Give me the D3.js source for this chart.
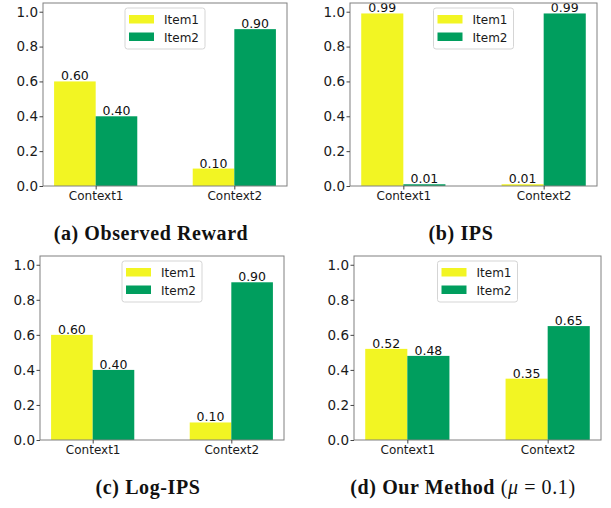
<!DOCTYPE html>
<html>
<head>
<meta charset="utf-8">
<script src="https://cdn.jsdelivr.net/npm/d3@7"></script>
<style>
  body { margin: 0; background: #fff; }
  svg { display: block; }
  .tick text { fill: #1a1a1a; }
</style>
</head>
<body>
<div id="chart"></div>
<script>
// data
var categories = ["Context1", "Context2"],
    items = ["Item1", "Item2"];

var rewardItem1 = [0.60, 0.10], rewardItem2 = [0.40, 0.90];
var ipsItem1 = [0.99, 0.01], ipsItem2 = [0.01, 0.99];
var logIpsItem1 = [0.60, 0.10], logIpsItem2 = [0.40, 0.90];
var oursItem1 = [0.52, 0.35], oursItem2 = [0.48, 0.65];

var yTicks = [0, 0.2, 0.4, 0.6, 0.8, 1.0];

var width = 611, height = 508;
var colors = ["#f2f523", "#009e5e"];
var barWidth = 0.3;

var f = d3.format(".2f");

// panel layout (pixel boxes of each axes + title centre)
var panels = [
  { title: [["(a) Observed Reward", "b"]], v1: rewardItem1, v2: rewardItem2,
    left: 43, right: 287, top: 3, bottom: 186, tx: 151 },
  { title: [["(b) IPS", "b"]], v1: ipsItem1, v2: ipsItem2,
    left: 350, right: 597, top: 3, bottom: 186, tx: 461 },
  { title: [["(c) Log-IPS", "b"]], v1: logIpsItem1, v2: logIpsItem2,
    left: 40, right: 284, top: 256, bottom: 440, tx: 148 },
  { title: [["(d) Our Method ", "b"], ["(", "n"], ["\u03bc", "i"], [" = 0.1)", "n"]],
    v1: oursItem1, v2: oursItem2,
    left: 354, right: 601, top: 256, bottom: 440, tx: 463 }
];

var svg = d3.select("#chart").append("svg")
  .attr("width", width)
  .attr("height", height)
  .style("font-family", "'DejaVu Sans', sans-serif");

panels.forEach(function(p) {
  var x = d3.scaleLinear().domain([-0.38, 1.38]).range([p.left, p.right]);
  var y = d3.scaleLinear().domain([0, 1.05]).range([p.bottom, p.top]);

  var g = svg.append("g");

  // bars
  [p.v1, p.v2].forEach(function(vals, j) {
    var bars = vals.map(function(v, i) {
      return { x0: i - barWidth + j * barWidth, v: v };
    });
    g.selectAll(null).data(bars).enter().append("rect")
      .attr("x", function(d) { return x(d.x0); })
      .attr("y", function(d) { return y(d.v); })
      .attr("width", function(d) { return x(d.x0 + barWidth) - x(d.x0); })
      .attr("height", function(d) { return y(0) - y(d.v); })
      .style("fill", colors[j]);

    g.selectAll(null).data(bars).enter().append("text")
      .attr("x", function(d) { return x(d.x0 + barWidth / 2); })
      .attr("y", function(d) { return y(d.v) - 1; })
      .attr("text-anchor", "middle")
      .style("font-size", "12.5px")
      .style("fill", "#111")
      .text(function(d) { return f(d.v); });
  });

  // frame
  g.append("rect")
    .attr("x", p.left)
    .attr("y", p.top)
    .attr("width", p.right - p.left)
    .attr("height", p.bottom - p.top)
    .style("fill", "none")
    .style("stroke", "#808080")
    .style("stroke-width", "1px");

  // axes
  var xAxis = d3.axisBottom(x)
    .tickValues([0, 1])
    .tickFormat(function(d) { return categories[d]; })
    .tickSizeInner(3.5)
    .tickSizeOuter(0)
    .tickPadding(2);
  var yAxis = d3.axisLeft(y)
    .tickValues(yTicks)
    .tickFormat(d3.format(".1f"))
    .tickSizeInner(3.5)
    .tickSizeOuter(0)
    .tickPadding(1.5);

  var gx = g.append("g")
    .attr("transform", "translate(0," + p.bottom + ")")
    .call(xAxis);
  gx.select(".domain").remove();
  gx.selectAll("text").style("font-size", "12px").style("font-family", "'DejaVu Sans', sans-serif");
  gx.selectAll("line").style("stroke", "#444");

  var gy = g.append("g")
    .attr("transform", "translate(" + p.left + ",0)")
    .call(yAxis);
  gy.select(".domain").remove();
  gy.selectAll("text").style("font-size", "13.5px").style("font-family", "'DejaVu Sans', sans-serif");
  gy.selectAll("line").style("stroke", "#444");

  // legend (upper center)
  var lw = 80, lh = 41;
  var lx = (p.left + p.right) / 2 - lw / 2, ly = p.top + 5;
  var leg = g.append("g").attr("transform", "translate(" + lx + "," + ly + ")");
  leg.append("rect")
    .attr("width", lw)
    .attr("height", lh)
    .attr("rx", 2.5)
    .style("fill", "#fff")
    .style("fill-opacity", 0.8)
    .style("stroke", "#d5d5d5")
    .style("stroke-width", "1px");
  items.forEach(function(name, j) {
    leg.append("rect")
      .attr("x", 4)
      .attr("y", 7 + j * 17.5)
      .attr("width", 25)
      .attr("height", 8.5)
      .style("fill", colors[j]);
    leg.append("text")
      .attr("x", 39)
      .attr("y", 16 + j * 17.5)
      .style("font-size", "12px")
      .style("fill", "#1a1a1a")
      .text(name);
  });

  // subfigure caption
  var t = svg.append("text")
    .attr("x", p.tx)
    .attr("y", p.bottom + 54)
    .attr("text-anchor", "middle")
    .style("font-family", "'Liberation Serif', serif")
    .style("font-size", "20px")
    .style("letter-spacing", "0.6px")
    .style("fill", "#111");
  p.title.forEach(function(part) {
    t.append("tspan")
      .style("font-weight", part[1] === "b" ? "bold" : "normal")
      .style("font-style", part[1] === "i" ? "italic" : "normal")
      .text(part[0]);
  });
});
</script>
</body>
</html>
